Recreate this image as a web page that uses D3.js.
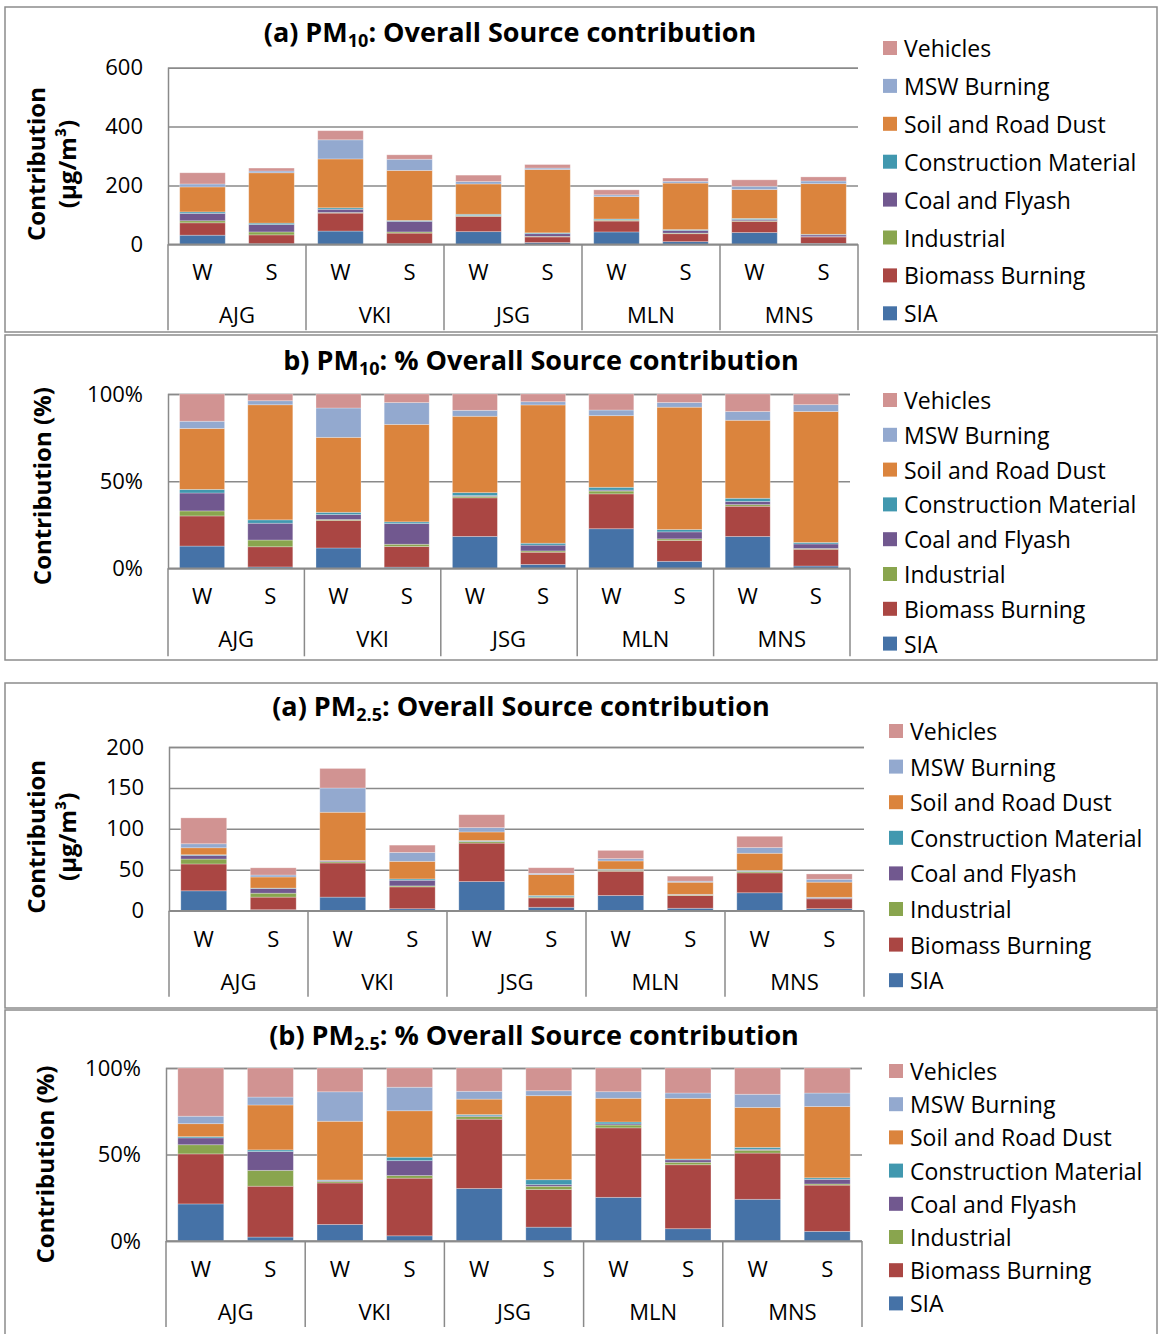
<!DOCTYPE html>
<html><head><meta charset="utf-8">
<script src="https://cdn.jsdelivr.net/npm/d3@7"></script>
<style>body{margin:0;background:#fff}svg{display:block}text{font-family:"Open Sans",Lato,sans-serif;fill:#000}</style>
</head><body><svg id="c" width="1161" height="1334"></svg>
<script>
// ---- data ----
const series = ["SIA","Biomass Burning","Industrial","Coal and Flyash","Construction Material","Soil and Road Dust","MSW Burning","Vehicles"];
const seriesColors = ["#4572A7","#AA4643","#89A54E","#71588F","#4198AF","#DB843D","#93A9CF","#D19392"];
const sites = ["AJG","VKI","JSG","MLN","MNS"];
const seasons = ["W","S"];
// bar order: AJG-W, AJG-S, VKI-W, VKI-S, JSG-W, JSG-S, MLN-W, MLN-S, MNS-W, MNS-S   (µg/m³)
const pm10SIA          = [31, 2, 45, 2, 43, 6, 42, 9, 40, 3];
const pm10Biomass      = [42, 30, 61, 36, 52, 19, 37, 27, 38, 22];
const pm10Industrial   = [7, 10, 2, 4, 2, 2, 3, 2, 2, 1];
const pm10Coal         = [25, 25, 11, 36, 1, 9, 1, 9, 4, 6];
const pm10Construction = [5, 5, 5, 3, 4, 3, 3, 3, 4, 2];
const pm10Soil         = [85, 171, 166, 170, 103, 215, 76, 158, 98, 172];
const pm10MSW          = [10, 6, 65, 38, 8, 5, 6, 6, 11, 9];
const pm10Vehicles     = [38, 10, 31, 15, 22, 12, 17, 11, 22, 14];

const pm25SIA          = [24.3, 1.2, 16.6, 2.4, 35.6, 4.2, 18.6, 3.0, 21.9, 2.5];
const pm25Biomass      = [32.8, 15.4, 41.7, 26.7, 47.0, 11.4, 29.6, 15.6, 24.3, 12.0];
const pm25Industrial   = [6.0, 4.8, 1.5, 1.2, 1.8, 1.0, 1.2, 0.6, 1.5, 0.3];
const pm25Coal         = [4.5, 5.7, 1.0, 6.9, 0.5, 0.5, 0.5, 0.6, 0.5, 1.2];
const pm25Construction = [0.8, 0.5, 0.5, 1.6, 0.8, 1.5, 0.8, 0.2, 1.0, 0.4];
const pm25Soil         = [8.5, 13.6, 59.0, 21.5, 10.5, 25.5, 10.1, 14.8, 21.0, 18.5];
const pm25MSW          = [4.9, 2.4, 29.6, 10.9, 5.3, 1.5, 2.8, 1.3, 6.9, 3.5];
const pm25Vehicles     = [31.6, 8.8, 23.9, 8.9, 15.8, 6.9, 10.1, 6.1, 13.8, 6.5];

const pm10Ticks = [0, 200, 400, 600];
const pm25Ticks = [0, 50, 100, 150, 200];
const pctTicks = [0, 0.5, 1];

// ---- build tables ----
const barKeys = [];
sites.forEach(s => seasons.forEach(se => barKeys.push(s + "-" + se)));
function table(cols) {
  return barKeys.map((k, i) => {
    const row = {key: k, site: k.split("-")[0], season: k.split("-")[1]};
    series.forEach((s, j) => row[s] = cols[j][i]);
    return row;
  });
}
const pm10Rows = table([pm10SIA, pm10Biomass, pm10Industrial, pm10Coal, pm10Construction, pm10Soil, pm10MSW, pm10Vehicles]);
const pm25Rows = table([pm25SIA, pm25Biomass, pm25Industrial, pm25Coal, pm25Construction, pm25Soil, pm25MSW, pm25Vehicles]);

const svg = d3.select("#c");
const color = d3.scaleOrdinal().domain(series).range(seriesColors);
const GRID = "#8a8a8a";

function panel(cfg) {
  const g = svg.append("g");
  g.append("rect").attr("x", cfg.frame[0]).attr("y", cfg.frame[1]).attr("width", cfg.frame[2]).attr("height", cfg.frame[3])
    .attr("fill", "#fff").attr("stroke", "#8c8c8c").attr("stroke-width", 1.5);

  const x = d3.scaleBand().domain(barKeys).range([cfg.left, cfg.right]).paddingInner(0.34).paddingOuter(0.17);
  const y = d3.scaleLinear().domain(cfg.domain).range([cfg.bottom, cfg.top]);

  // gridlines
  const yAxis = d3.axisLeft(y).tickValues(cfg.ticks).tickFormat(cfg.fmt).tickSize(-(cfg.right - cfg.left)).tickPadding(25);
  const ax = g.append("g").attr("transform", `translate(${cfg.left},0)`).call(yAxis);
  ax.select(".domain").attr("stroke", GRID).attr("stroke-width", 1.5);
  ax.selectAll(".tick line").attr("stroke", GRID).attr("stroke-width", 1.5);
  ax.selectAll(".tick text").attr("font-size", 22).attr("font-family", "Open Sans").attr("fill", "#000");

  // stacked bars
  const stack = d3.stack().keys(series);
  if (cfg.expand) stack.offset(d3.stackOffsetExpand);
  const layers = stack(cfg.rows);
  g.selectAll(".layer").data(layers).join("g").attr("fill", d => color(d.key))
    .selectAll("rect").data(d => d).join("rect")
    .attr("x", d => x(d.data.key)).attr("width", x.bandwidth())
    .attr("y", d => y(d[1])).attr("height", d => Math.max(0, y(d[0]) - y(d[1])))
    .attr("stroke", "#fff").attr("stroke-opacity", 0.35).attr("stroke-width", 0.8);

  // category axis
  const groupW = (cfg.right - cfg.left) / sites.length;
  g.append("line").attr("x1", cfg.left).attr("x2", cfg.right).attr("y1", cfg.bottom).attr("y2", cfg.bottom)
    .attr("stroke", GRID).attr("stroke-width", 1.5);
  d3.range(sites.length + 1).forEach(i => {
    g.append("line").attr("x1", cfg.left + i * groupW).attr("x2", cfg.left + i * groupW)
      .attr("y1", cfg.bottom).attr("y2", cfg.bottom + cfg.catH).attr("stroke", GRID).attr("stroke-width", 1.5);
  });
  g.selectAll(".season").data(cfg.rows).join("text")
    .attr("x", d => x(d.key) + x.bandwidth() / 2).attr("y", cfg.bottom + 27)
    .attr("text-anchor", "middle").attr("dominant-baseline", "central").attr("font-size", 22).text(d => d.season);
  g.selectAll(".site").data(sites).join("text")
    .attr("x", (d, i) => cfg.left + (i + 0.5) * groupW).attr("y", cfg.bottom + 70)
    .attr("text-anchor", "middle").attr("dominant-baseline", "central").attr("font-size", 22).text(d => d);

  // title
  const t = g.append("text").attr("x", cfg.titleX).attr("y", cfg.titleY).attr("text-anchor", "middle")
    .attr("font-weight", "bold").attr("font-size", 27);
  t.append("tspan").text(cfg.title[0]);
  t.append("tspan").attr("font-size", 18).attr("dy", 5).text(cfg.title[1]);
  t.append("tspan").attr("dy", -5).text(cfg.title[2]);

  // y title
  const yc = (cfg.top + cfg.bottom) / 2 + cfg.yTitleShift;
  cfg.yTitle.forEach((line, i) => {
    g.append("text").attr("transform", `translate(${cfg.yTitleX[i]},${yc}) rotate(-90)`)
      .attr("text-anchor", "middle").attr("dominant-baseline", "central").attr("font-weight", "bold").attr("font-size", 24)
      .text(line);
  });

  // legend (top to bottom: reverse of stacking)
  const leg = series.slice().reverse();
  leg.forEach((s, i) => {
    const cy = cfg.legY + i * cfg.legDy;
    g.append("rect").attr("x", cfg.legX).attr("y", cy - 7).attr("width", 14).attr("height", 14).attr("fill", color(s));
    g.append("text").attr("x", cfg.legX + 21).attr("y", cy).attr("dominant-baseline", "central").attr("font-size", 23).text(s);
  });
}

panel({frame: [5, 7, 1152, 325], left: 168, right: 858, top: 67.7, bottom: 244.3, domain: [0, 600], ticks: pm10Ticks,
  fmt: d3.format("d"), rows: pm10Rows, expand: false, catH: 86,
  title: ["(a) PM", "10", ": Overall Source contribution"], titleX: 510, titleY: 42,
  yTitle: ["Contribution", "(µg/m³)"], yTitleX: [35, 66], yTitleShift: 8, legX: 883, legY: 48, legDy: 37.9});
panel({frame: [5, 335, 1152, 325], left: 168, right: 850, top: 394, bottom: 568.3, domain: [0, 1], ticks: pctTicks,
  fmt: d3.format(".0%"), rows: pm10Rows, expand: true, catH: 88,
  title: ["b) PM", "10", ": % Overall Source contribution"], titleX: 541, titleY: 370,
  yTitle: ["Contribution (%)"], yTitleX: [41], yTitleShift: 5, legX: 883, legY: 400, legDy: 34.8});
panel({frame: [5, 683, 1152, 325], left: 169, right: 864, top: 747, bottom: 910.7, domain: [0, 200], ticks: pm25Ticks,
  fmt: d3.format("d"), rows: pm25Rows, expand: false, catH: 86,
  title: ["(a) PM", "2.5", ": Overall Source contribution"], titleX: 521, titleY: 716,
  yTitle: ["Contribution", "(µg/m³)"], yTitleX: [35, 66], yTitleShift: 8, legX: 889, legY: 731, legDy: 35.6});
panel({frame: [5, 1010, 1152, 335], left: 166, right: 862, top: 1068, bottom: 1241, domain: [0, 1], ticks: pctTicks,
  fmt: d3.format(".0%"), rows: pm25Rows, expand: true, catH: 86,
  title: ["(b) PM", "2.5", ": % Overall Source contribution"], titleX: 534, titleY: 1045,
  yTitle: ["Contribution (%)"], yTitleX: [44], yTitleShift: 10, legX: 889, legY: 1071, legDy: 33.2});
</script></body></html>
